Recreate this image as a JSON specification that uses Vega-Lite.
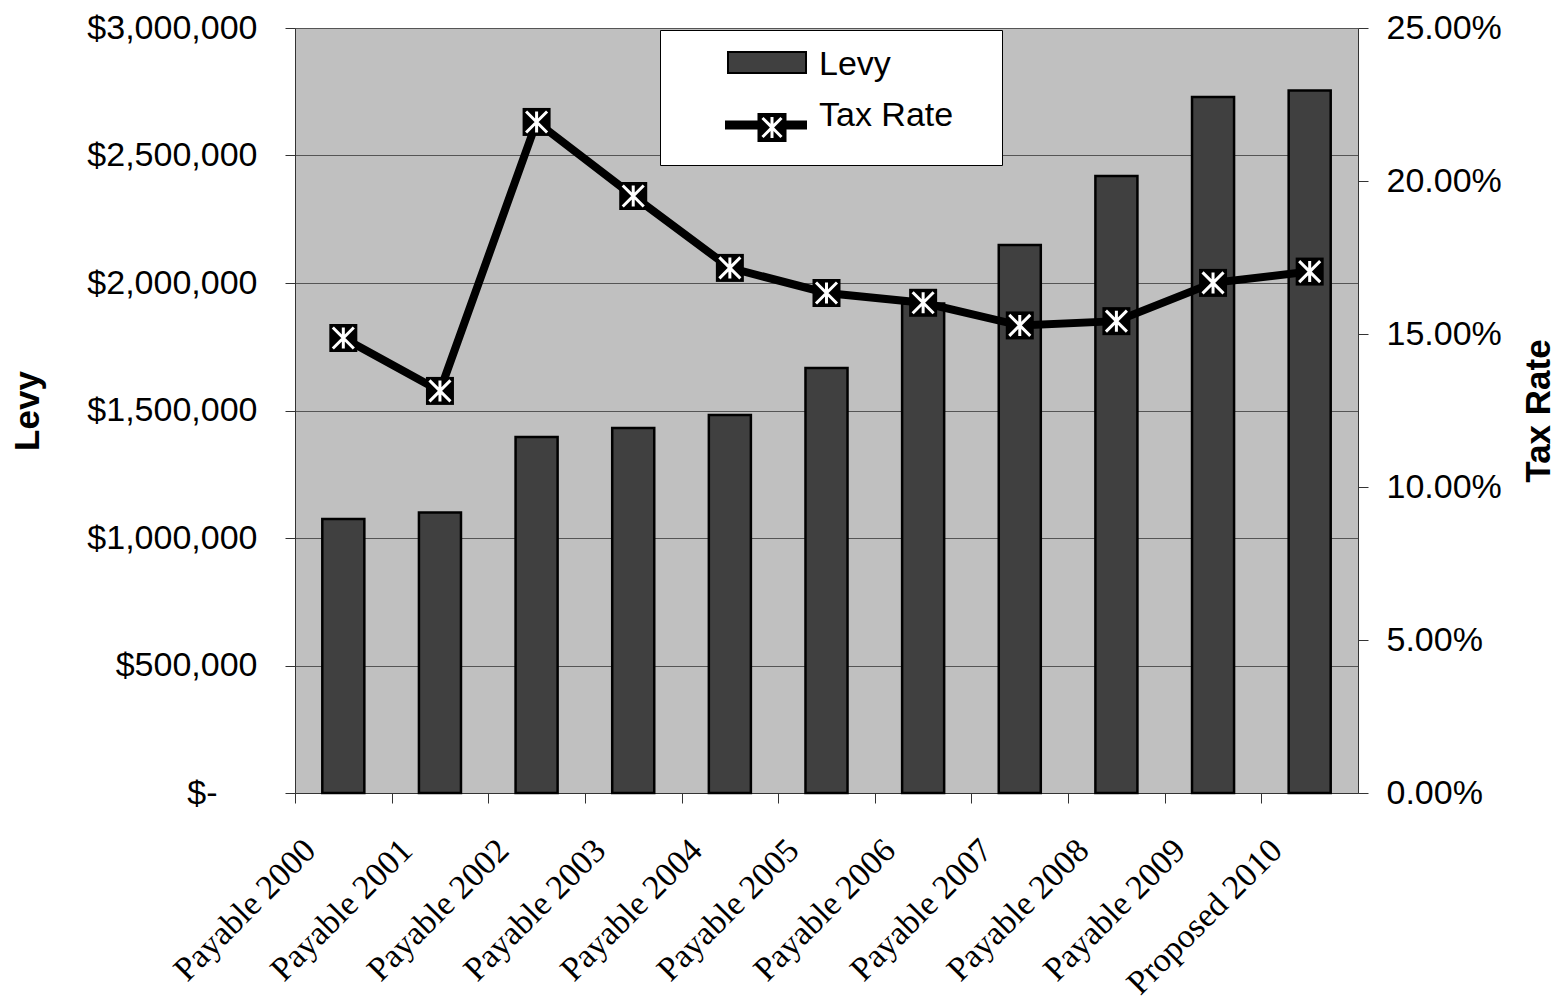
{
  "$schema": "https://vega.github.io/schema/vega-lite/v6.json",
  "width": 1063,
  "height": 765,
  "autosize": {"type": "none"},
  "padding": {"left": 295, "top": 28, "right": 200, "bottom": 204},
  "background": "#ffffff",
  "config": {
    "view": {"fill": "#c0c0c0", "stroke": null},
    "font": "Liberation Sans"
  },
  "data": {
    "values": [
      {"period": "Payable 2000", "levy": 1075000, "rate": 0.1487},
      {"period": "Payable 2001", "levy": 1100000, "rate": 0.1314},
      {"period": "Payable 2002", "levy": 1396000, "rate": 0.2193},
      {"period": "Payable 2003", "levy": 1431000, "rate": 0.1951},
      {"period": "Payable 2004", "levy": 1482000, "rate": 0.1716},
      {"period": "Payable 2005", "levy": 1667000, "rate": 0.1634},
      {"period": "Payable 2006", "levy": 1920000, "rate": 0.1602},
      {"period": "Payable 2007", "levy": 2149000, "rate": 0.1528},
      {"period": "Payable 2008", "levy": 2420000, "rate": 0.1542},
      {"period": "Payable 2009", "levy": 2729000, "rate": 0.1667},
      {"period": "Proposed 2010", "levy": 2755000, "rate": 0.1704}
    ]
  },
  "encoding": {
    "x": {
      "field": "period",
      "type": "nominal",
      "sort": null,
      "scale": {"paddingInner": 0.565, "paddingOuter": 0.2825},
      "axis": {
        "title": null,
        "labelAngle": -45,
        "labelAlign": "right",
        "labelBaseline": "middle",
        "labelFont": "Liberation Serif",
        "labelFontSize": 34,
        "labelColor": "#000000",
        "labelLimit": 400,
        "tickOffset": -48.32,
        "labelOffset": 15,
        "labelPadding": 42,
        "tickSize": 10,
        "tickColor": "#333333",
        "domainColor": "#333333",
        "grid": false
      }
    }
  },
  "layer": [
    {
      "mark": {"type": "bar", "stroke": "#000000", "strokeWidth": 2.5},
      "encoding": {
        "y": {
          "field": "levy",
          "type": "quantitative",
          "scale": {"domain": [0, 3000000], "nice": false},
          "axis": {
            "orient": "left",
            "values": [0, 500000, 1000000, 1500000, 2000000, 2500000, 3000000],
            "labelExpr": "datum.value === 0 ? '$-' : '$' + format(datum.value, ',')",
            "labelFont": "Liberation Sans",
            "labelFontSize": 34,
            "labelColor": "#000000",
            "labelPadding": {"condition": {"test": "datum.value === 0", "value": 68}, "value": 28},
            "tickSize": 10,
            "tickColor": "#333333",
            "domainColor": "#333333",
            "grid": true,
            "gridColor": "#555555",
            "gridWidth": 1,
            "title": "Levy",
            "titleFont": "Liberation Sans",
            "titleFontSize": 35,
            "titleFontWeight": "bold",
            "titleColor": "#000000",
            "titleAngle": 270,
            "titleX": -268,
            "titleY": 382.5,
            "titleAlign": "center",
            "titleBaseline": "middle"
          }
        },
        "color": {
          "datum": "Levy",
          "type": "nominal",
          "scale": {"domain": ["Levy"], "range": ["#404040"]},
          "legend": {
            "orient": "none",
            "legendX": 365,
            "legendY": 2,
            "zindex": 1,
            "title": null,
            "fillColor": "#ffffff",
            "strokeColor": "#000000",
            "cornerRadius": 0,
            "padding": 18,
            "labelFont": "Liberation Sans",
            "labelFontSize": 34,
            "labelColor": "#000000",
            "labelLimit": 400,
            "labelOffset": 107,
            "symbolSize": 784,
            "symbolOffset": 0,
            "symbolStrokeColor": "#000000",
            "symbolStrokeWidth": 2,
            "symbolOpacity": 1,
            "symbolType": "M2.357,-0.929H7.929V0.571H2.357ZM20.286,5.571"
          }
        }
      }
    },
    {
      "encoding": {
        "y": {
          "field": "rate",
          "type": "quantitative",
          "scale": {"domain": [0, 0.25], "nice": false},
          "axis": {
            "orient": "right",
            "values": [0, 0.05, 0.1, 0.15, 0.2, 0.25],
            "format": ".2%",
            "labelFont": "Liberation Sans",
            "labelFontSize": 34,
            "labelColor": "#000000",
            "labelPadding": 18,
            "tickSize": 10,
            "tickColor": "#333333",
            "domainColor": "#333333",
            "grid": false,
            "title": "Tax Rate",
            "titleFont": "Liberation Sans",
            "titleFontSize": 35,
            "titleFontWeight": "bold",
            "titleColor": "#000000",
            "titleAngle": 270,
            "titleX": 180,
            "titleY": 382.5,
            "titleAlign": "center",
            "titleBaseline": "middle"
          }
        }
      },
      "layer": [
        {
          "mark": {"type": "line", "color": "#000000", "strokeWidth": 8, "strokeJoin": "miter"}
        },
        {
          "mark": {"type": "point", "shape": "square", "filled": true, "color": "#000000", "size": 784},
          "encoding": {
            "opacity": {
              "datum": "Tax Rate",
              "type": "ordinal",
              "scale": {"domain": ["Tax Rate"], "range": [1, 1]},
              "legend": {
                "orient": "none",
                "legendX": 383,
                "legendY": 70.5,
                "zindex": 2,
                "title": null,
                "fillColor": null,
                "strokeColor": null,
                "padding": 0,
                "labelFont": "Liberation Sans",
                "labelFontSize": 34,
                "labelColor": "#000000",
                "labelLimit": 400,
                "labelOffset": 107,
                "symbolSize": 784,
                "symbolOffset": 0,
                "symbolFillColor": "#000000",
                "symbolStrokeWidth": 0,
                "symbolOpacity": 1,
                "symbolType": "M2.143,0.357L4.464,0.357L4.464,-0.179L6.536,-0.179L6.536,0.357L8,0.357L8,1L6.536,1L6.536,1.893L4.464,1.893L4.464,1L2.143,1ZM5.607,0.107L5.393,0.107L5.393,0.598L4.897,0.103L4.746,0.254L5.349,0.857L4.746,1.46L4.897,1.611L5.393,1.116L5.393,1.607L5.607,1.607L5.607,1.116L6.103,1.611L6.254,1.46L5.651,0.857L6.254,0.254L6.103,0.103L5.607,0.598Z"
              }
            }
          }
        },
        {
          "mark": {"type": "point", "shape": "M0,-1V1M-1,-1L1,1M-1,1L1,-1", "filled": false, "stroke": "#ffffff", "strokeWidth": 3, "size": 441, "opacity": 1}
        }
      ]
    }
  ],
  "resolve": {"scale": {"y": "independent"}}
}
